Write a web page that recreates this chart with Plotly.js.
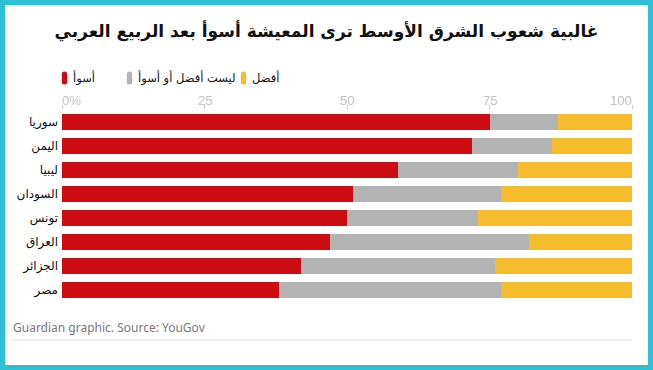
<!DOCTYPE html>
<html>
<head>
<meta charset="utf-8">
<script src="https://cdn.plot.ly/plotly-3.0.1.min.js"></script>
<style>html,body{margin:0;padding:0;background:#fff;}#chart{width:653px;height:370px;}</style>
</head>
<body>
<div id="chart"></div>
<script>
const countries = ['سوريا','اليمن','ليبيا','السودان','تونس','العراق','الجزائر','مصر'];
const worse   = [75, 72, 59, 51, 50, 47, 42, 38];
const neither = [12, 14, 21, 26, 23, 35, 34, 39];
const better  = [13, 14, 20, 23, 27, 18, 24, 23];
const seriesNames = ['أسوأ', 'ليست أفضل أو أسوأ', 'أفضل'];
const seriesColors = ['#cc0b12', '#b3b3b3', '#f5bd2c'];
const tickVals = [0, 25, 50, 75, 100];
const tickLabels = ['0%', '25', '50', '75', '100'];
const titleText = 'غالبية شعوب الشرق الأوسط ترى المعيشة أسوأ بعد الربيع العربي';
const sourceText = 'Guardian graphic. Source: YouGov';

const W = 653, H = 370;
const M = {l: 62, r: 21, t: 110, b: 68};
const pw = W - M.l - M.r, ph = H - M.t - M.b;
const px2x = p => (p - M.l) / pw;
const px2y = p => (H - M.b - p) / ph;

const values = [worse, neither, better];
const traces = values.map((v, i) => ({
  type: 'bar', orientation: 'h', name: seriesNames[i],
  y: countries, x: v, marker: {color: seriesColors[i], line: {width: 0}},
  hoverinfo: 'x+y+name'
}));

const legendX = [62, 127, 241];
const shapes = [
  {type: 'rect', xref: 'paper', yref: 'paper', layer: 'below',
   x0: px2x(5), x1: px2x(648), y0: px2y(365), y1: px2y(5),
   fillcolor: '#ffffff', line: {width: 0}},
  {type: 'line', xref: 'paper', yref: 'paper',
   x0: px2x(12), x1: px2x(632), y0: px2y(340), y1: px2y(340),
   line: {color: '#dcdcdc', width: 1}}
];
const annotations = [];
seriesNames.forEach((n, i) => {
  shapes.push({type: 'path', xref: 'paper', yref: 'paper', xsizemode: 'pixel', ysizemode: 'pixel',
    xanchor: px2x(legendX[i] + 2.5), yanchor: px2y(78),
    path: 'M-2.7,-4 Q-2.7,-6.5 0,-6.5 Q2.7,-6.5 2.7,-4 L2.7,4 Q2.7,6.5 0,6.5 Q-2.7,6.5 -2.7,4 Z',
    fillcolor: seriesColors[i], line: {width: 0}});
  annotations.push({xref: 'paper', yref: 'paper', x: px2x(legendX[i] + 9), y: px2y(78),
    xanchor: 'left', yanchor: 'middle', showarrow: false, text: n,
    font: {family: 'DejaVu Sans', size: 11.5, color: '#111'}});
});
// x tick labels: first left-aligned, last right-aligned, others centred
tickVals.forEach((v, i) => {
  const anchor = i === 0 ? 'left' : (i === tickVals.length - 1 ? 'right' : 'center');
  annotations.push({xref: 'x', yref: 'paper', x: v, y: px2y(100.5), xanchor: anchor, yanchor: 'middle',
    showarrow: false, text: tickLabels[i], xshift: i === 0 ? -2 : (i === tickVals.length - 1 ? 2 : 0),
    font: {family: 'Liberation Sans', size: 13, color: '#c4c4c4'}});
});
annotations.push({xref: 'paper', yref: 'paper', x: px2x(11), y: px2y(327), xanchor: 'left', yanchor: 'middle',
  showarrow: false, text: sourceText, font: {family: 'Noto Sans', size: 12, color: '#7a7a7a'}});

const layout = {
  width: W, height: H, margin: M,
  paper_bgcolor: '#2ebfd3', plot_bgcolor: '#ffffff',
  barmode: 'stack', bargap: 1/3, showlegend: false,
  title: {text: titleText, x: 0.5, xref: 'container', y: 1 - 31 / H, yref: 'container',
    xanchor: 'center', yanchor: 'middle',
    font: {family: 'DejaVu Sans', size: 17, weight: 'bold', color: '#111'}},
  xaxis: {side: 'top', range: [0, 100], tickvals: tickVals, showticklabels: false,
    ticks: 'outside', ticklen: 4, tickcolor: '#cccccc', tickwidth: 1,
    showgrid: true, gridcolor: 'rgba(255,255,255,0.65)', gridwidth: 1,
    layer: 'above traces', zeroline: false, showline: false, fixedrange: true},
  yaxis: {autorange: 'reversed', showgrid: false, zeroline: false, showline: false,
    ticks: '', ticklabelstandoff: 3, fixedrange: true,
    tickfont: {family: 'DejaVu Sans', size: 12, color: '#111'}},
  shapes: shapes, annotations: annotations
};
Plotly.newPlot('chart', traces, layout, {displayModeBar: false, staticPlot: true});
</script>
</body>
</html>
